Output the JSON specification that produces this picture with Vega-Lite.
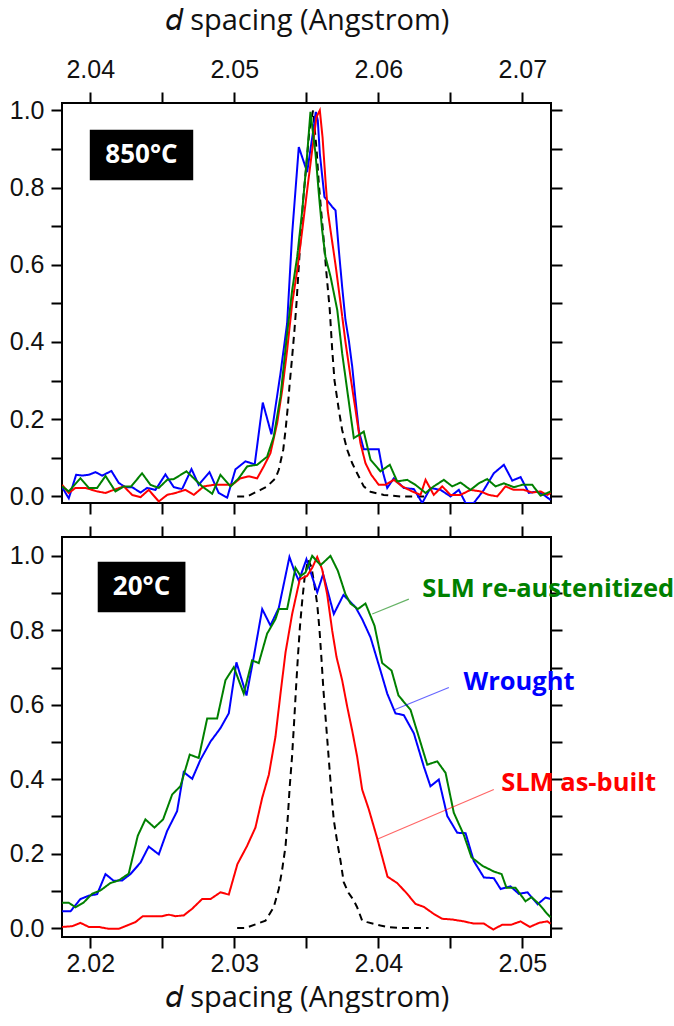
{
"$schema": "https://vega.github.io/schema/vega-lite/v6.json",
"background": "white",
"padding": {"left": 8, "top": 5, "right": 0, "bottom": 0},
"spacing": 8,
"datasets": {
"top": [
{"s":"ref","d":2.05020,"i":0},{"s":"ref","d":2.05090,"i":0},{"s":"ref","d":2.05182,"i":0.017},{"s":"ref","d":2.05228,"i":0.026},{"s":"ref","d":2.05286,"i":0.047},{"s":"ref","d":2.05309,"i":0.069},{"s":"ref","d":2.05340,"i":0.121},{"s":"ref","d":2.05356,"i":0.172},{"s":"ref","d":2.05372,"i":0.233},{"s":"ref","d":2.05385,"i":0.293},{"s":"ref","d":2.05402,"i":0.362},{"s":"ref","d":2.05418,"i":0.431},{"s":"ref","d":2.05432,"i":0.5},{"s":"ref","d":2.05455,"i":0.638},{"s":"ref","d":2.05478,"i":0.767},{"s":"ref","d":2.05501,"i":0.86},{"s":"ref","d":2.05522,"i":0.95},{"s":"ref","d":2.05547,"i":1.0},{"s":"ref","d":2.05571,"i":0.9},{"s":"ref","d":2.05587,"i":0.81},{"s":"ref","d":2.05603,"i":0.741},{"s":"ref","d":2.05617,"i":0.681},{"s":"ref","d":2.05640,"i":0.578},{"s":"ref","d":2.05663,"i":0.483},{"s":"ref","d":2.05680,"i":0.38},{"s":"ref","d":2.05696,"i":0.30},{"s":"ref","d":2.05726,"i":0.224},{"s":"ref","d":2.05749,"i":0.172},{"s":"ref","d":2.05784,"i":0.121},{"s":"ref","d":2.05819,"i":0.086},{"s":"ref","d":2.05853,"i":0.06},{"s":"ref","d":2.05899,"i":0.026},{"s":"ref","d":2.05946,"i":0.012},{"s":"ref","d":2.06038,"i":0.004},{"s":"ref","d":2.06154,"i":0},{"s":"ref","d":2.06342,"i":0},
{"s":"wrought","d":2.03805,"i":0.024},{"s":"wrought","d":2.03851,"i":-0.005},{"s":"wrought","d":2.03902,"i":0.056},{"s":"wrought","d":2.03944,"i":0.054},{"s":"wrought","d":2.03990,"i":0.056},{"s":"wrought","d":2.04036,"i":0.063},{"s":"wrought","d":2.04083,"i":0.054},{"s":"wrought","d":2.04147,"i":0.066},{"s":"wrought","d":2.04198,"i":0.035},{"s":"wrought","d":2.04244,"i":0.024},{"s":"wrought","d":2.04291,"i":0.024},{"s":"wrought","d":2.04349,"i":0.010},{"s":"wrought","d":2.04395,"i":0.022},{"s":"wrought","d":2.04453,"i":0.017},{"s":"wrought","d":2.04522,"i":0.057},{"s":"wrought","d":2.04580,"i":0.024},{"s":"wrought","d":2.04638,"i":0.019},{"s":"wrought","d":2.04703,"i":0.071},{"s":"wrought","d":2.04753,"i":0.030},{"s":"wrought","d":2.04828,"i":0.063},{"s":"wrought","d":2.04892,"i":0.009},{"s":"wrought","d":2.04951,"i":-0.003},{"s":"wrought","d":2.05008,"i":0.070},{"s":"wrought","d":2.05078,"i":0.091},{"s":"wrought","d":2.05142,"i":0.083},{"s":"wrought","d":2.05198,"i":0.243},{"s":"wrought","d":2.05258,"i":0.161},{"s":"wrought","d":2.05321,"i":0.319},{"s":"wrought","d":2.05367,"i":0.448},{"s":"wrought","d":2.05402,"i":0.681},{"s":"wrought","d":2.05448,"i":0.905},{"s":"wrought","d":2.05483,"i":0.866},{"s":"wrought","d":2.05506,"i":0.840},{"s":"wrought","d":2.05552,"i":0.957},{"s":"wrought","d":2.05566,"i":0.996},{"s":"wrought","d":2.05580,"i":0.974},{"s":"wrought","d":2.05594,"i":0.888},{"s":"wrought","d":2.05626,"i":0.776},{"s":"wrought","d":2.05680,"i":0.750},{"s":"wrought","d":2.05703,"i":0.741},{"s":"wrought","d":2.05726,"i":0.638},{"s":"wrought","d":2.05749,"i":0.543},{"s":"wrought","d":2.05772,"i":0.457},{"s":"wrought","d":2.05795,"i":0.405},{"s":"wrought","d":2.05819,"i":0.336},{"s":"wrought","d":2.05842,"i":0.25},{"s":"wrought","d":2.05865,"i":0.17},{"s":"wrought","d":2.05899,"i":0.122},{"s":"wrought","d":2.06003,"i":0.122},{"s":"wrought","d":2.06034,"i":0.06},{"s":"wrought","d":2.06062,"i":0.022},{"s":"wrought","d":2.06108,"i":0.047},{"s":"wrought","d":2.06177,"i":0.022},{"s":"wrought","d":2.06247,"i":0.019},{"s":"wrought","d":2.06305,"i":-0.017},{"s":"wrought","d":2.06362,"i":0.022},{"s":"wrought","d":2.06432,"i":0.017},{"s":"wrought","d":2.06501,"i":0.0},{"s":"wrought","d":2.06559,"i":0.017},{"s":"wrought","d":2.06606,"i":-0.017},{"s":"wrought","d":2.06663,"i":-0.017},{"s":"wrought","d":2.06733,"i":0.017},{"s":"wrought","d":2.06802,"i":0.06},{"s":"wrought","d":2.06872,"i":0.082},{"s":"wrought","d":2.06930,"i":0.041},{"s":"wrought","d":2.06988,"i":0.05},{"s":"wrought","d":2.07045,"i":0.009},{"s":"wrought","d":2.07103,"i":0.013},{"s":"wrought","d":2.07149,"i":0.004},{"s":"wrought","d":2.07196,"i":-0.009},
{"s":"asbuilt","d":2.03805,"i":0.030},{"s":"asbuilt","d":2.03851,"i":0.009},{"s":"asbuilt","d":2.03897,"i":0.022},{"s":"asbuilt","d":2.03967,"i":0.022},{"s":"asbuilt","d":2.04048,"i":0.013},{"s":"asbuilt","d":2.04106,"i":0.009},{"s":"asbuilt","d":2.04163,"i":0.017},{"s":"asbuilt","d":2.04233,"i":0.026},{"s":"asbuilt","d":2.04291,"i":0.004},{"s":"asbuilt","d":2.04349,"i":-0.002},{"s":"asbuilt","d":2.04406,"i":0.017},{"s":"asbuilt","d":2.04476,"i":-0.013},{"s":"asbuilt","d":2.04534,"i":0.004},{"s":"asbuilt","d":2.04592,"i":0.009},{"s":"asbuilt","d":2.04661,"i":0.017},{"s":"asbuilt","d":2.04719,"i":0.004},{"s":"asbuilt","d":2.04788,"i":0.026},{"s":"asbuilt","d":2.04858,"i":0.030},{"s":"asbuilt","d":2.04927,"i":0.030},{"s":"asbuilt","d":2.04985,"i":0.030},{"s":"asbuilt","d":2.05043,"i":0.047},{"s":"asbuilt","d":2.05101,"i":0.052},{"s":"asbuilt","d":2.05159,"i":0.047},{"s":"asbuilt","d":2.05205,"i":0.078},{"s":"asbuilt","d":2.05251,"i":0.112},{"s":"asbuilt","d":2.05298,"i":0.190},{"s":"asbuilt","d":2.05333,"i":0.276},{"s":"asbuilt","d":2.05367,"i":0.379},{"s":"asbuilt","d":2.05402,"i":0.5},{"s":"asbuilt","d":2.05437,"i":0.586},{"s":"asbuilt","d":2.05472,"i":0.690},{"s":"asbuilt","d":2.05506,"i":0.793},{"s":"asbuilt","d":2.05541,"i":0.897},{"s":"asbuilt","d":2.05571,"i":0.983},{"s":"asbuilt","d":2.05594,"i":1.0},{"s":"asbuilt","d":2.05613,"i":0.93},{"s":"asbuilt","d":2.05633,"i":0.82},{"s":"asbuilt","d":2.05649,"i":0.74},{"s":"asbuilt","d":2.05668,"i":0.69},{"s":"asbuilt","d":2.05703,"i":0.60},{"s":"asbuilt","d":2.05738,"i":0.50},{"s":"asbuilt","d":2.05772,"i":0.40},{"s":"asbuilt","d":2.05807,"i":0.31},{"s":"asbuilt","d":2.05842,"i":0.224},{"s":"asbuilt","d":2.05876,"i":0.138},{"s":"asbuilt","d":2.05911,"i":0.086},{"s":"asbuilt","d":2.05951,"i":0.056},{"s":"asbuilt","d":2.06003,"i":0.030},{"s":"asbuilt","d":2.06050,"i":0.030},{"s":"asbuilt","d":2.06108,"i":0.043},{"s":"asbuilt","d":2.06166,"i":0.026},{"s":"asbuilt","d":2.06235,"i":0.013},{"s":"asbuilt","d":2.06293,"i":0.004},{"s":"asbuilt","d":2.06328,"i":0.043},{"s":"asbuilt","d":2.06385,"i":0.004},{"s":"asbuilt","d":2.06444,"i":0.026},{"s":"asbuilt","d":2.06501,"i":0.004},{"s":"asbuilt","d":2.06571,"i":0.004},{"s":"asbuilt","d":2.06640,"i":0.017},{"s":"asbuilt","d":2.06710,"i":0.013},{"s":"asbuilt","d":2.06767,"i":0.004},{"s":"asbuilt","d":2.06826,"i":0.0},{"s":"asbuilt","d":2.06883,"i":0.026},{"s":"asbuilt","d":2.06941,"i":0.017},{"s":"asbuilt","d":2.07010,"i":0.017},{"s":"asbuilt","d":2.07069,"i":0.010},{"s":"asbuilt","d":2.07126,"i":0.013},{"s":"asbuilt","d":2.07173,"i":0.004},{"s":"asbuilt","d":2.07196,"i":0.009},
{"s":"reaust","d":2.03805,"i":0.026},{"s":"reaust","d":2.03851,"i":0.013},{"s":"reaust","d":2.03932,"i":0.047},{"s":"reaust","d":2.03990,"i":0.022},{"s":"reaust","d":2.04048,"i":0.022},{"s":"reaust","d":2.04106,"i":0.053},{"s":"reaust","d":2.04175,"i":0.013},{"s":"reaust","d":2.04233,"i":0.026},{"s":"reaust","d":2.04284,"i":0.026},{"s":"reaust","d":2.04360,"i":0.060},{"s":"reaust","d":2.04418,"i":0.030},{"s":"reaust","d":2.04476,"i":0.022},{"s":"reaust","d":2.04534,"i":0.043},{"s":"reaust","d":2.04580,"i":0.045},{"s":"reaust","d":2.04668,"i":0.065},{"s":"reaust","d":2.04719,"i":0.047},{"s":"reaust","d":2.04777,"i":0.026},{"s":"reaust","d":2.04847,"i":0.007},{"s":"reaust","d":2.04904,"i":0.056},{"s":"reaust","d":2.04974,"i":0.026},{"s":"reaust","d":2.05031,"i":0.047},{"s":"reaust","d":2.05090,"i":0.078},{"s":"reaust","d":2.05159,"i":0.082},{"s":"reaust","d":2.05228,"i":0.103},{"s":"reaust","d":2.05274,"i":0.155},{"s":"reaust","d":2.05321,"i":0.259},{"s":"reaust","d":2.05367,"i":0.422},{"s":"reaust","d":2.05402,"i":0.534},{"s":"reaust","d":2.05437,"i":0.621},{"s":"reaust","d":2.05472,"i":0.741},{"s":"reaust","d":2.05501,"i":0.862},{"s":"reaust","d":2.05529,"i":0.996},{"s":"reaust","d":2.05564,"i":0.888},{"s":"reaust","d":2.05587,"i":0.785},{"s":"reaust","d":2.05610,"i":0.690},{"s":"reaust","d":2.05633,"i":0.621},{"s":"reaust","d":2.05668,"i":0.57},{"s":"reaust","d":2.05715,"i":0.483},{"s":"reaust","d":2.05749,"i":0.371},{"s":"reaust","d":2.05784,"i":0.276},{"s":"reaust","d":2.05830,"i":0.151},{"s":"reaust","d":2.05865,"i":0.159},{"s":"reaust","d":2.05899,"i":0.168},{"s":"reaust","d":2.05946,"i":0.095},{"s":"reaust","d":2.06015,"i":0.065},{"s":"reaust","d":2.06080,"i":0.082},{"s":"reaust","d":2.06131,"i":0.039},{"s":"reaust","d":2.06201,"i":0.043},{"s":"reaust","d":2.06258,"i":0.030},{"s":"reaust","d":2.06328,"i":0.009},{"s":"reaust","d":2.06385,"i":0.026},{"s":"reaust","d":2.06455,"i":0.043},{"s":"reaust","d":2.06513,"i":0.026},{"s":"reaust","d":2.06571,"i":0.036},{"s":"reaust","d":2.06640,"i":0.017},{"s":"reaust","d":2.06698,"i":0.034},{"s":"reaust","d":2.06756,"i":0.045},{"s":"reaust","d":2.06814,"i":0.026},{"s":"reaust","d":2.06872,"i":0.034},{"s":"reaust","d":2.06941,"i":0.024},{"s":"reaust","d":2.06999,"i":0.030},{"s":"reaust","d":2.07069,"i":0.030},{"s":"reaust","d":2.07126,"i":0.002},{"s":"reaust","d":2.07173,"i":0.009},{"s":"reaust","d":2.07196,"i":0.013}
],
"bottom": [
{"s":"ref","d":2.03020,"i":0},{"s":"ref","d":2.03078,"i":0},{"s":"ref","d":2.03161,"i":0.012},{"s":"ref","d":2.03217,"i":0.02},{"s":"ref","d":2.03274,"i":0.056},{"s":"ref","d":2.03309,"i":0.105},{"s":"ref","d":2.03333,"i":0.158},{"s":"ref","d":2.03356,"i":0.22},{"s":"ref","d":2.03372,"i":0.30},{"s":"ref","d":2.03385,"i":0.38},{"s":"ref","d":2.03401,"i":0.46},{"s":"ref","d":2.03415,"i":0.55},{"s":"ref","d":2.03428,"i":0.64},{"s":"ref","d":2.03442,"i":0.73},{"s":"ref","d":2.03456,"i":0.81},{"s":"ref","d":2.03472,"i":0.88},{"s":"ref","d":2.03488,"i":0.94},{"s":"ref","d":2.03512,"i":0.99},{"s":"ref","d":2.03536,"i":0.97},{"s":"ref","d":2.03557,"i":0.92},{"s":"ref","d":2.03576,"i":0.87},{"s":"ref","d":2.03592,"i":0.80},{"s":"ref","d":2.03606,"i":0.72},{"s":"ref","d":2.03619,"i":0.64},{"s":"ref","d":2.03633,"i":0.57},{"s":"ref","d":2.03647,"i":0.50},{"s":"ref","d":2.03661,"i":0.43},{"s":"ref","d":2.03675,"i":0.36},{"s":"ref","d":2.03691,"i":0.29},{"s":"ref","d":2.03715,"i":0.23},{"s":"ref","d":2.03738,"i":0.18},{"s":"ref","d":2.03760,"i":0.123},{"s":"ref","d":2.03793,"i":0.095},{"s":"ref","d":2.03830,"i":0.074},{"s":"ref","d":2.03853,"i":0.056},{"s":"ref","d":2.03888,"i":0.02},{"s":"ref","d":2.03923,"i":0.016},{"s":"ref","d":2.04015,"i":0.007},{"s":"ref","d":2.04064,"i":0.003},{"s":"ref","d":2.04154,"i":0},{"s":"ref","d":2.04349,"i":0},
{"s":"wrought","d":2.01805,"i":0.045},{"s":"wrought","d":2.01863,"i":0.045},{"s":"wrought","d":2.01932,"i":0.078},{"s":"wrought","d":2.01990,"i":0.087},{"s":"wrought","d":2.02048,"i":0.091},{"s":"wrought","d":2.02106,"i":0.145},{"s":"wrought","d":2.02163,"i":0.127},{"s":"wrought","d":2.02222,"i":0.128},{"s":"wrought","d":2.02279,"i":0.145},{"s":"wrought","d":2.02349,"i":0.176},{"s":"wrought","d":2.02406,"i":0.219},{"s":"wrought","d":2.02476,"i":0.198},{"s":"wrought","d":2.02534,"i":0.261},{"s":"wrought","d":2.02603,"i":0.314},{"s":"wrought","d":2.02649,"i":0.419},{"s":"wrought","d":2.02708,"i":0.401},{"s":"wrought","d":2.02765,"i":0.452},{"s":"wrought","d":2.02835,"i":0.501},{"s":"wrought","d":2.02904,"i":0.537},{"s":"wrought","d":2.02962,"i":0.577},{"s":"wrought","d":2.03015,"i":0.714},{"s":"wrought","d":2.03085,"i":0.625},{"s":"wrought","d":2.03135,"i":0.728},{"s":"wrought","d":2.03194,"i":0.857},{"s":"wrought","d":2.03251,"i":0.813},{"s":"wrought","d":2.03309,"i":0.86},{"s":"wrought","d":2.03383,"i":0.997},{"s":"wrought","d":2.03413,"i":0.964},{"s":"wrought","d":2.03448,"i":0.933},{"s":"wrought","d":2.03501,"i":0.991},{"s":"wrought","d":2.03576,"i":0.902},{"s":"wrought","d":2.03617,"i":0.951},{"s":"wrought","d":2.03691,"i":0.844},{"s":"wrought","d":2.03758,"i":0.895},{"s":"wrought","d":2.03842,"i":0.862},{"s":"wrought","d":2.03888,"i":0.830},{"s":"wrought","d":2.03946,"i":0.781},{"s":"wrought","d":2.04015,"i":0.692},{"s":"wrought","d":2.04062,"i":0.630},{"s":"wrought","d":2.04119,"i":0.577},{"s":"wrought","d":2.04177,"i":0.572},{"s":"wrought","d":2.04247,"i":0.523},{"s":"wrought","d":2.04316,"i":0.434},{"s":"wrought","d":2.04362,"i":0.381},{"s":"wrought","d":2.04420,"i":0.399},{"s":"wrought","d":2.04479,"i":0.301},{"s":"wrought","d":2.04548,"i":0.256},{"s":"wrought","d":2.04606,"i":0.255},{"s":"wrought","d":2.04663,"i":0.180},{"s":"wrought","d":2.04733,"i":0.136},{"s":"wrought","d":2.04802,"i":0.134},{"s":"wrought","d":2.04849,"i":0.105},{"s":"wrought","d":2.04918,"i":0.112},{"s":"wrought","d":2.04976,"i":0.092},{"s":"wrought","d":2.05036,"i":0.096},{"s":"wrought","d":2.05106,"i":0.064},{"s":"wrought","d":2.05161,"i":0.082},{"s":"wrought","d":2.05196,"i":0.078},
{"s":"asbuilt","d":2.01805,"i":0.003},{"s":"asbuilt","d":2.01874,"i":0.005},{"s":"asbuilt","d":2.01932,"i":0.014},{"s":"asbuilt","d":2.01990,"i":0.003},{"s":"asbuilt","d":2.02059,"i":0.003},{"s":"asbuilt","d":2.02128,"i":-0.002},{"s":"asbuilt","d":2.02198,"i":-0.002},{"s":"asbuilt","d":2.02256,"i":0.007},{"s":"asbuilt","d":2.02314,"i":0.016},{"s":"asbuilt","d":2.02365,"i":0.032},{"s":"asbuilt","d":2.02430,"i":0.032},{"s":"asbuilt","d":2.02499,"i":0.032},{"s":"asbuilt","d":2.02545,"i":0.036},{"s":"asbuilt","d":2.02592,"i":0.032},{"s":"asbuilt","d":2.02649,"i":0.034},{"s":"asbuilt","d":2.02708,"i":0.052},{"s":"asbuilt","d":2.02777,"i":0.078},{"s":"asbuilt","d":2.02835,"i":0.078},{"s":"asbuilt","d":2.02904,"i":0.096},{"s":"asbuilt","d":2.02962,"i":0.090},{"s":"asbuilt","d":2.03022,"i":0.172},{"s":"asbuilt","d":2.03088,"i":0.22},{"s":"asbuilt","d":2.03147,"i":0.27},{"s":"asbuilt","d":2.03194,"i":0.350},{"s":"asbuilt","d":2.03240,"i":0.412},{"s":"asbuilt","d":2.03286,"i":0.514},{"s":"asbuilt","d":2.03321,"i":0.63},{"s":"asbuilt","d":2.03356,"i":0.741},{"s":"asbuilt","d":2.03402,"i":0.844},{"s":"asbuilt","d":2.03455,"i":0.937},{"s":"asbuilt","d":2.03505,"i":0.946},{"s":"asbuilt","d":2.03541,"i":0.968},{"s":"asbuilt","d":2.03576,"i":0.997},{"s":"asbuilt","d":2.03610,"i":0.964},{"s":"asbuilt","d":2.03645,"i":0.897},{"s":"asbuilt","d":2.03680,"i":0.799},{"s":"asbuilt","d":2.03710,"i":0.728},{"s":"asbuilt","d":2.03749,"i":0.666},{"s":"asbuilt","d":2.03784,"i":0.595},{"s":"asbuilt","d":2.03819,"i":0.53},{"s":"asbuilt","d":2.03853,"i":0.461},{"s":"asbuilt","d":2.03888,"i":0.372},{"s":"asbuilt","d":2.03934,"i":0.319},{"s":"asbuilt","d":2.03991,"i":0.243},{"s":"asbuilt","d":2.04064,"i":0.138},{"s":"asbuilt","d":2.04131,"i":0.121},{"s":"asbuilt","d":2.04196,"i":0.094},{"s":"asbuilt","d":2.04258,"i":0.065},{"s":"asbuilt","d":2.04316,"i":0.057},{"s":"asbuilt","d":2.04385,"i":0.038},{"s":"asbuilt","d":2.04444,"i":0.025},{"s":"asbuilt","d":2.04513,"i":0.023},{"s":"asbuilt","d":2.04594,"i":0.018},{"s":"asbuilt","d":2.04663,"i":0.012},{"s":"asbuilt","d":2.04733,"i":0.012},{"s":"asbuilt","d":2.04798,"i":-0.004},{"s":"asbuilt","d":2.04860,"i":0.009},{"s":"asbuilt","d":2.04923,"i":0.009},{"s":"asbuilt","d":2.04988,"i":0.018},{"s":"asbuilt","d":2.05052,"i":0.003},{"s":"asbuilt","d":2.05115,"i":0.014},{"s":"asbuilt","d":2.05173,"i":0.018},{"s":"asbuilt","d":2.05196,"i":0.012},
{"s":"reaust","d":2.01805,"i":0.068},{"s":"reaust","d":2.01851,"i":0.068},{"s":"reaust","d":2.01897,"i":0.056},{"s":"reaust","d":2.01955,"i":0.069},{"s":"reaust","d":2.02013,"i":0.092},{"s":"reaust","d":2.02071,"i":0.101},{"s":"reaust","d":2.02140,"i":0.121},{"s":"reaust","d":2.02198,"i":0.128},{"s":"reaust","d":2.02267,"i":0.146},{"s":"reaust","d":2.02330,"i":0.248},{"s":"reaust","d":2.02383,"i":0.292},{"s":"reaust","d":2.02446,"i":0.270},{"s":"reaust","d":2.02506,"i":0.292},{"s":"reaust","d":2.02569,"i":0.359},{"s":"reaust","d":2.02626,"i":0.381},{"s":"reaust","d":2.02691,"i":0.466},{"s":"reaust","d":2.02753,"i":0.457},{"s":"reaust","d":2.02812,"i":0.563},{"s":"reaust","d":2.02881,"i":0.563},{"s":"reaust","d":2.02939,"i":0.666},{"s":"reaust","d":2.02997,"i":0.701},{"s":"reaust","d":2.03066,"i":0.630},{"s":"reaust","d":2.03124,"i":0.719},{"s":"reaust","d":2.03170,"i":0.712},{"s":"reaust","d":2.03228,"i":0.791},{"s":"reaust","d":2.03286,"i":0.830},{"s":"reaust","d":2.03309,"i":0.857},{"s":"reaust","d":2.03367,"i":0.857},{"s":"reaust","d":2.03425,"i":0.968},{"s":"reaust","d":2.03460,"i":0.946},{"s":"reaust","d":2.03494,"i":0.955},{"s":"reaust","d":2.03541,"i":1.0},{"s":"reaust","d":2.03599,"i":0.975},{"s":"reaust","d":2.03668,"i":1.0},{"s":"reaust","d":2.03719,"i":0.960},{"s":"reaust","d":2.03772,"i":0.897},{"s":"reaust","d":2.03807,"i":0.872},{"s":"reaust","d":2.03858,"i":0.857},{"s":"reaust","d":2.03911,"i":0.872},{"s":"reaust","d":2.03974,"i":0.812},{"s":"reaust","d":2.04027,"i":0.712},{"s":"reaust","d":2.04092,"i":0.692},{"s":"reaust","d":2.04140,"i":0.625},{"s":"reaust","d":2.04224,"i":0.586},{"s":"reaust","d":2.04281,"i":0.514},{"s":"reaust","d":2.04340,"i":0.439},{"s":"reaust","d":2.04409,"i":0.448},{"s":"reaust","d":2.04467,"i":0.417},{"s":"reaust","d":2.04524,"i":0.310},{"s":"reaust","d":2.04594,"i":0.250},{"s":"reaust","d":2.04647,"i":0.190},{"s":"reaust","d":2.04724,"i":0.167},{"s":"reaust","d":2.04802,"i":0.152},{"s":"reaust","d":2.04856,"i":0.145},{"s":"reaust","d":2.04890,"i":0.108},{"s":"reaust","d":2.04953,"i":0.108},{"s":"reaust","d":2.05022,"i":0.072},{"s":"reaust","d":2.05064,"i":0.083},{"s":"reaust","d":2.05115,"i":0.065},{"s":"reaust","d":2.05173,"i":0.038},{"s":"reaust","d":2.05196,"i":0.029}
],
"topbox": [{"label":"850°C","x1":2.03997,"x2":2.04715,"y1":0.819,"y2":0.950,"tx":2.04356,"ty":0.8845}],
"botbox": [{"label":"20°C","x1":2.02052,"x2":2.02661,"y1":0.8483,"y2":0.9845,"tx":2.02356,"ty":0.9164}],
"notes": [
{"s":"reaust","text":"SLM re-austenitized","tx":2.04305,"ty":0.9105,"x1":2.03958,"y1":0.8438,"x2":2.04212,"y2":0.8838},
{"s":"wrought","text":"Wrought","tx":2.04592,"ty":0.6614,"x1":2.04108,"y1":0.5858,"x2":2.04490,"y2":0.6462},
{"s":"asbuilt","text":"SLM as-built","tx":2.04853,"ty":0.3899,"x1":2.03992,"y1":0.2387,"x2":2.04802,"y2":0.3722}
]
},
"config": {
"view": {"stroke": "black", "strokeWidth": 2},
"axis": {"domain": false, "grid": false, "tickColor": "black", "tickWidth": 2, "tickSize": 11, "labelFont": "Liberation Sans", "labelFontSize": 25, "labelColor": "#111111", "titleFont": "Open Sans", "titleFontSize": 29, "titleFontWeight": "normal", "titleColor": "#111111", "labelOverlap": false, "labelFlush": false, "labelBound": false}
},
"vconcat": [
{
"width": 489, "height": 400,
"resolve": {"axis": {"x": "independent", "y": "independent"}},
"layer": [
{
"data": {"name": "top"},
"mark": {"type": "line", "strokeWidth": 2, "clip": true},
"encoding": {
"x": {"field": "d", "type": "quantitative", "scale": {"domain": [2.03804, 2.07199], "nice": false, "zero": false},
"axis": {"orient": "top", "values": [2.04, 2.045, 2.05, 2.055, 2.06, 2.065, 2.07], "labelExpr": "abs(datum.value*100 - round(datum.value*100)) < 0.01 ? format(datum.value, '.2f') : ''", "title": "𝘥 spacing (Angstrom)", "labelPadding": 10, "titlePadding": 22, "encode": {"ticks": {"update": {"y2": {"signal": "abs(datum.value*100 - round(datum.value*100)) < 0.01 ? -11 : -6"}}}}}},
"y": {"field": "i", "type": "quantitative", "scale": {"domain": [-0.017, 1.019], "nice": false, "zero": false},
"axis": {"orient": "left", "values": [0, 0.1, 0.2, 0.3, 0.4, 0.5, 0.6, 0.7, 0.8, 0.9, 1.0], "labelExpr": "round(datum.value*10) % 2 == 0 ? format(datum.value, '.1f') : ''", "title": null, "labelPadding": 7, "encode": {"ticks": {"update": {"x2": {"signal": "round(datum.value*10) % 2 == 0 ? -11 : -6"}}}}}},
"color": {"field": "s", "type": "nominal", "scale": {"domain": ["ref", "wrought", "asbuilt", "reaust"], "range": ["#000000", "#0000ff", "#ff0000", "#008000"]}, "legend": null},
"strokeDash": {"field": "s", "type": "nominal", "scale": {"domain": ["ref", "wrought", "asbuilt", "reaust"], "range": [[7, 5], [1, 0], [1, 0], [1, 0]]}, "legend": null}
}
},
{
"data": {"name": "topbox"},
"mark": {"type": "rect", "color": "black"},
"encoding": {
"x": {"field": "x1", "type": "quantitative", "axis": {"orient": "bottom", "values": [2.04, 2.045, 2.05, 2.055, 2.06, 2.065, 2.07], "labels": false, "title": null, "encode": {"ticks": {"update": {"y2": {"signal": "abs(datum.value*100 - round(datum.value*100)) < 0.01 ? 11 : 6"}}}}}},
"x2": {"field": "x2"},
"y": {"field": "y1", "type": "quantitative", "axis": {"orient": "right", "values": [0, 0.1, 0.2, 0.3, 0.4, 0.5, 0.6, 0.7, 0.8, 0.9, 1.0], "labels": false, "title": null, "encode": {"ticks": {"update": {"x2": {"signal": "round(datum.value*10) % 2 == 0 ? 11 : 6"}}}}}},
"y2": {"field": "y2"}
}
},
{
"data": {"name": "topbox"},
"mark": {"type": "text", "color": "white", "font": "Open Sans", "fontWeight": "bold", "fontSize": 26, "baseline": "middle", "align": "center"},
"encoding": {
"x": {"field": "tx", "type": "quantitative", "axis": null},
"y": {"field": "ty", "type": "quantitative", "axis": null},
"text": {"field": "label"}
}
}
]
},
{
"width": 489, "height": 400,
"resolve": {"axis": {"x": "independent", "y": "independent"}},
"layer": [
{
"data": {"name": "bottom"},
"mark": {"type": "line", "strokeWidth": 2, "clip": true},
"encoding": {
"x": {"field": "d", "type": "quantitative", "scale": {"domain": [2.01804, 2.05199], "nice": false, "zero": false},
"axis": {"orient": "bottom", "values": [2.02, 2.025, 2.03, 2.035, 2.04, 2.045, 2.05], "labelExpr": "abs(datum.value*100 - round(datum.value*100)) < 0.01 ? format(datum.value, '.2f') : ''", "title": "𝘥 spacing (Angstrom)", "labelPadding": 3, "titlePadding": 7, "encode": {"ticks": {"update": {"y2": {"signal": "abs(datum.value*100 - round(datum.value*100)) < 0.01 ? 11 : 6"}}}}}},
"y": {"field": "i", "type": "quantitative", "scale": {"domain": [-0.024, 1.0507], "nice": false, "zero": false},
"axis": {"orient": "left", "values": [0, 0.1, 0.2, 0.3, 0.4, 0.5, 0.6, 0.7, 0.8, 0.9, 1.0], "labelExpr": "round(datum.value*10) % 2 == 0 ? format(datum.value, '.1f') : ''", "title": null, "labelPadding": 7, "encode": {"ticks": {"update": {"x2": {"signal": "round(datum.value*10) % 2 == 0 ? -11 : -6"}}}}}},
"color": {"field": "s", "type": "nominal", "scale": {"domain": ["ref", "wrought", "asbuilt", "reaust"], "range": ["#000000", "#0000ff", "#ff0000", "#008000"]}, "legend": null},
"strokeDash": {"field": "s", "type": "nominal", "scale": {"domain": ["ref", "wrought", "asbuilt", "reaust"], "range": [[7, 5], [1, 0], [1, 0], [1, 0]]}, "legend": null}
}
},
{
"data": {"name": "botbox"},
"mark": {"type": "rect", "color": "black"},
"encoding": {
"x": {"field": "x1", "type": "quantitative", "axis": {"orient": "top", "values": [2.02, 2.025, 2.03, 2.035, 2.04, 2.045, 2.05], "labels": false, "title": null, "encode": {"ticks": {"update": {"y2": {"signal": "abs(datum.value*100 - round(datum.value*100)) < 0.01 ? -11 : -6"}}}}}},
"x2": {"field": "x2"},
"y": {"field": "y1", "type": "quantitative", "axis": {"orient": "right", "values": [0, 0.1, 0.2, 0.3, 0.4, 0.5, 0.6, 0.7, 0.8, 0.9, 1.0], "labels": false, "title": null, "encode": {"ticks": {"update": {"x2": {"signal": "round(datum.value*10) % 2 == 0 ? 11 : 6"}}}}}},
"y2": {"field": "y2"}
}
},
{
"data": {"name": "botbox"},
"mark": {"type": "text", "color": "white", "font": "Open Sans", "fontWeight": "bold", "fontSize": 26, "baseline": "middle", "align": "center"},
"encoding": {
"x": {"field": "tx", "type": "quantitative", "axis": null},
"y": {"field": "ty", "type": "quantitative", "axis": null},
"text": {"field": "label"}
}
},
{
"data": {"name": "notes"},
"mark": {"type": "rule", "strokeWidth": 1.2, "opacity": 0.6},
"encoding": {
"x": {"field": "x1", "type": "quantitative", "axis": null},
"y": {"field": "y1", "type": "quantitative", "axis": null},
"x2": {"field": "x2"},
"y2": {"field": "y2"},
"color": {"field": "s", "type": "nominal", "legend": null}
}
},
{
"data": {"name": "notes"},
"mark": {"type": "text", "font": "Open Sans", "fontWeight": "bold", "fontSize": 25.5, "baseline": "middle", "align": "left"},
"encoding": {
"x": {"field": "tx", "type": "quantitative", "axis": null},
"y": {"field": "ty", "type": "quantitative", "axis": null},
"text": {"field": "text"},
"color": {"field": "s", "type": "nominal", "legend": null}
}
}
]
}
]
}
